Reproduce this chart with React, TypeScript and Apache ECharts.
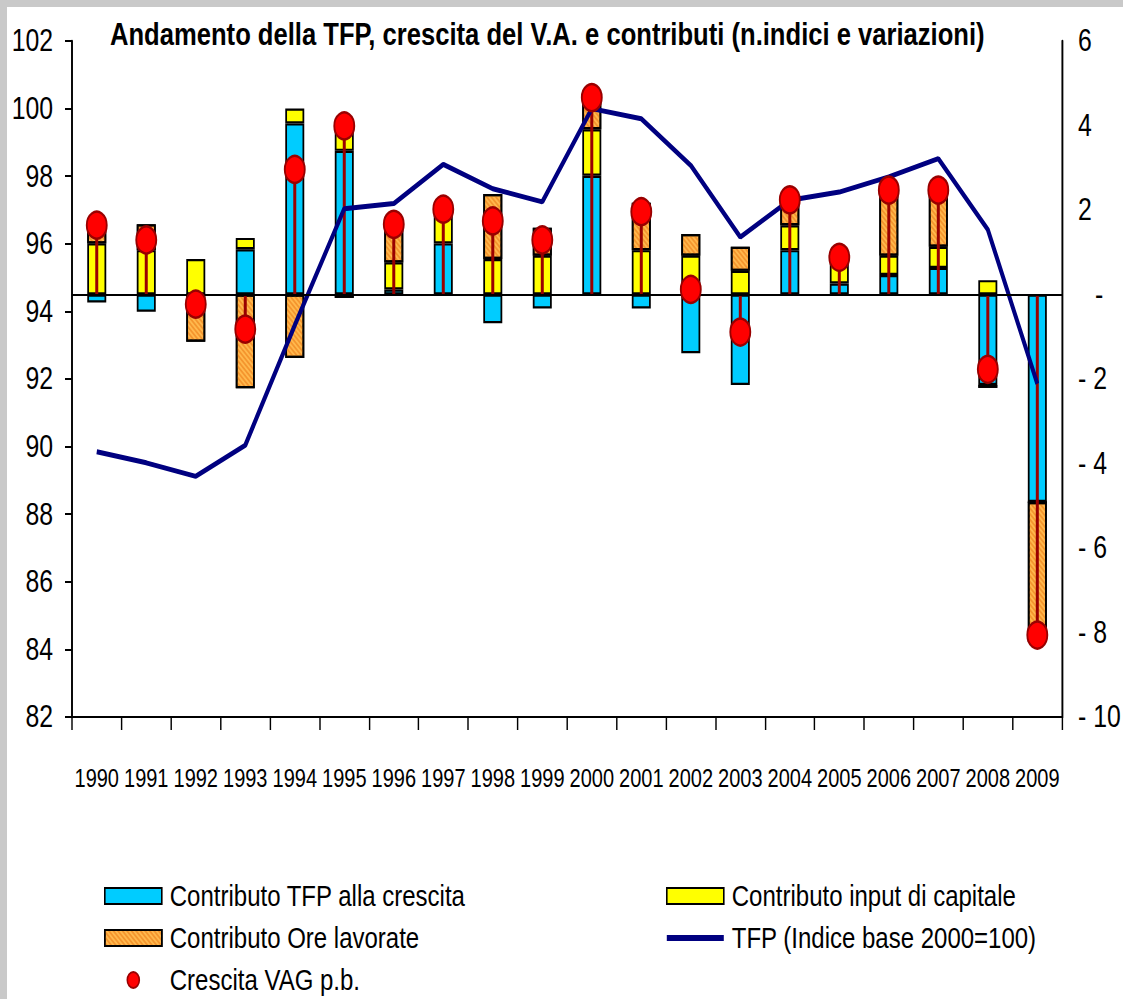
import React, { useEffect, useRef } from 'react';
import * as echarts from 'echarts';

const years = ['1990', '1991', '1992', '1993', '1994', '1995', '1996', '1997', '1998', '1999', '2000', '2001', '2002', '2003', '2004', '2005', '2006', '2007', '2008', '2009'];
const tfpContrib = [-0.19, -0.41, 0, 1.07, 4.05, 3.4, 0.12, 1.21, -0.68, -0.33, 2.81, -0.33, -1.39, -2.14, 1.05, 0.26, 0.46, 0.63, -2.14, -4.91];
const capitalContrib = [1.21, 1.05, 0.84, 0.27, 0.35, 0.57, 0.64, 0.81, 0.84, 0.92, 1.1, 1.05, 0.92, 0.56, 0.59, 0.48, 0.46, 0.5, 0.34, 0];
const hoursContrib = [0.51, 0.61, -1.12, -2.22, -1.5, -0.08, 0.83, 0, 1.54, 0.66, 0.65, 1.12, 0.51, 0.57, 0.52, 0.1, 1.46, 1.26, -0.07, -3.31];
const vagGrowth = [1.64, 1.29, -0.23, -0.82, 2.96, 3.99, 1.66, 2.02, 1.74, 1.29, 4.66, 1.96, 0.12, -0.89, 2.24, 0.88, 2.47, 2.47, -1.77, -8.06];
const tfpIndex = [89.85, 89.52, 89.12, 90.04, 93.59, 97.04, 97.19, 98.35, 97.63, 97.24, 100.0, 99.7, 98.32, 96.2, 97.29, 97.53, 97.98, 98.52, 96.42, 91.86];

const FONT = "'Liberation Sans', Arial, sans-serif";
// the reference chart is horizontally condensed; draw wider and squeeze
const S = 0.8;
const W = 1123;
const H = 999;
const X = (px: number) => px / S;

export default function App() {
  const ref = useRef<HTMLDivElement>(null);
  useEffect(() => {
    const chart = echarts.init(ref.current as HTMLDivElement, null, { renderer: 'svg' });
    const border = { borderColor: '#000', borderWidth: 2.2 };
    const legendText = { fontSize: 30, fontFamily: FONT, color: '#000', padding: [0, 0, 0, X(4)] };
    chart.setOption({
      animation: false,
      backgroundColor: '#fff',
      title: {
        text: 'Andamento della TFP, crescita del V.A. e contributi (n.indici e variazioni)',
        left: X(110),
        top: 18,
        padding: 0,
        textStyle: { fontSize: 32, fontWeight: 'bold', fontFamily: FONT, color: '#000' },
      },
      graphic: [
        { type: 'rect', shape: { x: 0, y: 0, width: X(W), height: 7 }, style: { fill: '#C9C9C9' }, silent: true },
        { type: 'rect', shape: { x: 0, y: 0, width: X(7), height: H }, style: { fill: '#C9C9C9' }, silent: true },
      ],
      grid: { left: X(72), right: X(61), top: 41, bottom: 282, containLabel: false },
      legend: [
        {
          data: [
            { name: 'Contributo TFP alla crescita', icon: 'rect' },
            { name: 'Contributo Ore lavorate', icon: 'rect' },
            { name: 'Crescita VAG p.b.', icon: 'path://M7.5 0A7.5 8 0 1 1 7.5 16A7.5 8 0 1 1 7.5 0Z' },
          ],
          orient: 'vertical',
          left: X(104),
          top: 881,
          padding: 0,
          itemGap: 12,
          itemWidth: X(57),
          itemHeight: 16,
          selectedMode: false,
          textStyle: legendText,
        },
        {
          data: [
            { name: 'Contributo input di capitale', icon: 'rect' },
            { name: 'TFP (Indice base 2000=100)', icon: 'path://M0 0H60V5H0Z' },
          ],
          orient: 'vertical',
          left: X(666),
          top: 881,
          padding: 0,
          itemGap: 12,
          itemWidth: X(57),
          itemHeight: 16,
          selectedMode: false,
          textStyle: legendText,
        },
      ],
      xAxis: [
        {
          type: 'category',
          data: years,
          position: 'bottom',
          axisLine: { onZero: false, lineStyle: { color: '#000', width: 2 } },
          axisTick: { show: true, interval: 0, length: 13, lineStyle: { color: '#000', width: 1.8 } },
          axisLabel: { interval: 0, margin: 49, fontSize: 25, fontFamily: FONT, color: '#000' },
          splitLine: { show: false },
        },
        { type: 'category', data: years, show: false, position: 'bottom' },
      ],
      yAxis: [
        {
          type: 'value',
          min: 82,
          max: 102,
          interval: 2,
          position: 'left',
          axisLine: { show: true, lineStyle: { color: '#000', width: 2.4 } },
          axisTick: { show: true, length: X(7), lineStyle: { color: '#000', width: 2 } },
          splitLine: { show: false },
          axisLabel: { margin: X(19), fontSize: 31, fontFamily: FONT, color: '#000' },
        },
        {
          type: 'value',
          min: -10,
          max: 6,
          interval: 2,
          position: 'right',
          axisLine: { show: true, lineStyle: { color: '#000', width: 2.4 } },
          axisTick: { show: false },
          splitLine: { show: false },
          axisLabel: {
            margin: X(16),
            fontSize: 31,
            fontFamily: FONT,
            color: '#000',
            formatter: (v: number) => (v === 0 ? '{z|-}' : v < 0 ? '- ' + -v : String(v)),
            rich: { z: { padding: [0, 0, 0, X(17)], fontSize: 31, fontFamily: FONT, color: '#000' } },
          },
        },
      ],
      series: [
        {
          name: 'Contributo TFP alla crescita',
          type: 'bar',
          stack: 'c',
          xAxisIndex: 0,
          yAxisIndex: 1,
          barWidth: X(19),
          data: tfpContrib,
          itemStyle: { color: '#00CCFF', ...border },
          markLine: {
            silent: true,
            symbol: 'none',
            label: { show: false },
            lineStyle: { color: '#000', width: 2, type: 'solid' },
            data: [{ yAxis: 0 }],
          },
        },
        {
          name: 'Contributo input di capitale',
          type: 'bar',
          stack: 'c',
          xAxisIndex: 0,
          yAxisIndex: 1,
          barWidth: X(19),
          data: capitalContrib,
          itemStyle: { color: '#FFFF00', ...border },
        },
        {
          name: 'Contributo Ore lavorate',
          type: 'bar',
          stack: 'c',
          xAxisIndex: 0,
          yAxisIndex: 1,
          barWidth: X(19),
          data: hoursContrib,
          itemStyle: {
            color: '#FFB84D',
            ...border,
            decal: {
              symbol: 'rect',
              symbolSize: 1,
              rotation: Math.PI / 4,
              color: 'rgba(235,120,20,0.55)',
              dashArrayX: [1, 0],
              dashArrayY: [2, 2],
            },
          },
        },
        {
          name: 'stem',
          type: 'bar',
          xAxisIndex: 1,
          yAxisIndex: 1,
          barWidth: X(3),
          z: 3,
          data: vagGrowth,
          itemStyle: { color: '#990000' },
        },
        {
          name: 'TFP (Indice base 2000=100)',
          type: 'line',
          xAxisIndex: 0,
          yAxisIndex: 0,
          z: 4,
          data: tfpIndex,
          symbol: 'none',
          itemStyle: { color: '#000080' },
          lineStyle: { color: '#000080', width: 5 },
        },
        {
          name: 'Crescita VAG p.b.',
          type: 'scatter',
          xAxisIndex: 0,
          yAxisIndex: 1,
          z: 5,
          data: vagGrowth,
          symbol: 'circle',
          symbolSize: [X(20), 27],
          itemStyle: { color: '#FF0000', borderColor: '#990000', borderWidth: 2.4, opacity: 1 },
        },
      ],
    });
    return () => chart.dispose();
  }, []);
  return (
    <div style={{ position: 'absolute', left: 0, top: 0, width: W, height: H, overflow: 'hidden', background: '#fff' }}>
      <div
        ref={ref}
        style={{ width: X(W), height: H, transform: `scaleX(${S})`, transformOrigin: '0 0' }}
      />
    </div>
  );
}
